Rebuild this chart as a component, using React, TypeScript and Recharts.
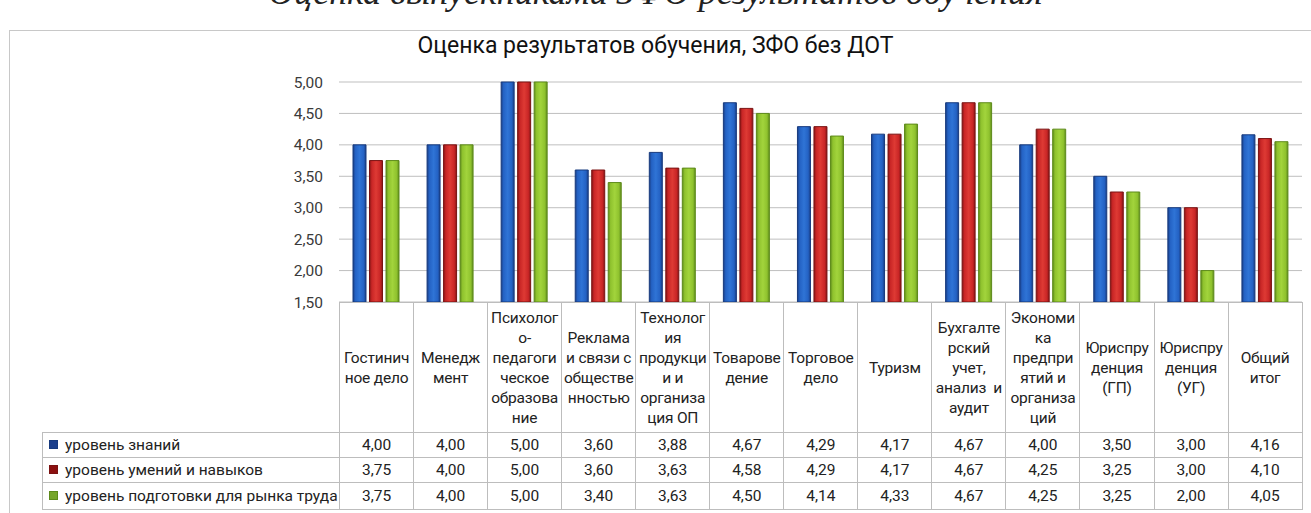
import { BarChart, Bar, XAxis, YAxis, CartesianGrid } from "recharts";

const FONT = "Roboto, 'Liberation Sans', sans-serif";

// category labels, split into lines exactly as wrapped in the picture
const categories = [
  ["Гостинич", "ное дело"],
  ["Менедж", "мент"],
  ["Психолог", "о-", "педагоги", "ческое", "образова", "ние"],
  ["Реклама", "и связи с", "обществе", "нностью"],
  ["Технолог", "ия", "продукци", "и и", "организа", "ция ОП"],
  ["Товарове", "дение"],
  ["Торговое", "дело"],
  ["Туризм"],
  ["Бухгалте", "рский", "учет,", "анализ  и", "аудит"],
  ["Экономи", "ка", "предпри", "ятий и", "организа", "ций"],
  ["Юриспру", "денция", "(ГП)"],
  ["Юриспру", "денция", "(УГ)"],
  ["Общий", "итог"],
];

const knowledge = [4.0, 4.0, 5.0, 3.6, 3.88, 4.67, 4.29, 4.17, 4.67, 4.0, 3.5, 3.0, 4.16];
const skills = [3.75, 4.0, 5.0, 3.6, 3.63, 4.58, 4.29, 4.17, 4.67, 4.25, 3.25, 3.0, 4.1];
const market = [3.75, 4.0, 5.0, 3.4, 3.63, 4.5, 4.14, 4.33, 4.67, 4.25, 3.25, 2.0, 4.05];

const yTicks = [1.5, 2.0, 2.5, 3.0, 3.5, 4.0, 4.5, 5.0];

const series = [
  { key: "knowledge", label: "уровень знаний", values: knowledge, grad: "gBlue", stroke: "#173a7e", key2: "#1c3f8c" },
  { key: "skills", label: "уровень умений и навыков", values: skills, grad: "gRed", stroke: "#7a1212", key2: "#8c1010" },
  { key: "market", label: "уровень подготовки для рынка труда", values: market, grad: "gGreen", stroke: "#5d8a1a", key2: "#76a52a" },
];

const data = categories.map((c, i) => ({
  name: c.join(" "),
  knowledge: knowledge[i],
  skills: skills[i],
  market: market[i],
}));

const fmt = (v: number) => v.toFixed(2).replace(".", ",");

const BORDER = "1px solid #bdbdbd";
const COL_W = 962.7 / 13;

function Grad({ id, edge, mid, light }: { id: string; edge: string; mid: string; light: string }) {
  return (
    <linearGradient id={id} x1="0" y1="0" x2="1" y2="0">
      <stop offset="0%" stopColor={edge} />
      <stop offset="18%" stopColor={mid} />
      <stop offset="50%" stopColor={light} />
      <stop offset="82%" stopColor={mid} />
      <stop offset="100%" stopColor={edge} />
    </linearGradient>
  );
}

export default function App() {
  return (
    <div
      style={{
        position: "fixed",
        left: 0,
        top: 0,
        width: 1311,
        height: 513,
        background: "#fff",
        overflow: "hidden",
        fontFamily: FONT,
        color: "#222",
      }}
    >
      {/* caption above the chart, cut off at the top as in the source */}
      <div
        style={{
          position: "absolute",
          left: 0,
          width: 1311,
          top: -27,
          textAlign: "center",
          fontFamily: "'Liberation Serif', serif",
          fontStyle: "italic",
          fontSize: 36,
          lineHeight: "38px",
        }}
      >
        Оценка выпускниками ЗФО результатов обучения
      </div>

      {/* chart frame */}
      <div
        style={{
          position: "absolute",
          left: 9,
          top: 30,
          width: 1320,
          height: 500,
          border: "1px solid #c8c8c8",
        }}
      />

      <div
        style={{
          position: "absolute",
          left: 0,
          width: 1311,
          top: 32,
          textAlign: "center",
          fontSize: 23,
          color: "#111",
        }}
      >
        Оценка результатов обучения, ЗФО без ДОТ
      </div>

      <div style={{ position: "absolute", left: 0, top: 0 }}>
        <BarChart
          width={1311}
          height={513}
          data={data}
          margin={{ top: 82, right: 9, bottom: 211, left: 279 }}
          barCategoryGap={14}
          barGap={3.5}
        >
          <defs>
            <Grad id="gBlue" edge="#1a3f86" mid="#2462c4" light="#2f74d6" />
            <Grad id="gRed" edge="#861616" mid="#c92626" light="#de3a34" />
            <Grad id="gGreen" edge="#5f8c1c" mid="#8fc22e" light="#a2d43c" />
          </defs>
          <CartesianGrid vertical={false} stroke="#bfbfbf" />
          <XAxis
            dataKey="name"
            height={0}
            tick={false}
            tickLine={false}
            axisLine={{ stroke: "#a8a8a8" }}
          />
          <YAxis
            width={60}
            domain={[1.5, 5]}
            ticks={yTicks}
            tickFormatter={fmt}
            axisLine={false}
            tickLine={false}
            tickSize={14}
            tickMargin={2}
            tick={{ fill: "#3a3a3a", fontSize: 15.5, fontFamily: FONT }}
          />
          {series.map((s) => (
            <Bar
              key={s.key}
              dataKey={s.key}
              fill={`url(#${s.grad})`}
              stroke={s.stroke}
              strokeWidth={1}
              isAnimationActive={false}
            />
          ))}
        </BarChart>
      </div>

      {/* data table under the plot */}
      <table
        style={{
          position: "absolute",
          left: 42,
          top: 302,
          width: 297 + COL_W * 13,
          borderCollapse: "collapse",
          tableLayout: "fixed",
          fontSize: 15.5,
          fontFamily: FONT,
        }}
      >
        <colgroup>
          <col style={{ width: 297 }} />
          {categories.map((_, i) => (
            <col key={i} style={{ width: COL_W }} />
          ))}
        </colgroup>
        <tbody>
          <tr style={{ height: 130 }}>
            <td style={{ border: "none", borderBottom: BORDER }} />
            {categories.map((lines, i) => (
              <td
                key={i}
                style={{
                  border: BORDER,
                  textAlign: "center",
                  verticalAlign: "middle",
                  padding: 0,
                  lineHeight: "20px",
                  whiteSpace: "pre",
                  letterSpacing: -0.2,
                }}
              >
                {lines.map((l, j) => (
                  <div key={j}>{l}</div>
                ))}
              </td>
            ))}
          </tr>
          {series.map((s, r) => (
            <tr key={s.key} style={{ height: r === 2 ? 27 : 25 }}>
              <td style={{ border: BORDER, padding: "0 0 0 6px", whiteSpace: "nowrap" }}>
                <span
                  style={{
                    display: "inline-block",
                    width: 7,
                    height: 7,
                    background: s.key2,
                    border: `1px solid ${s.stroke}`,
                    marginRight: 7,
                    verticalAlign: "middle",
                    position: "relative",
                    top: -1,
                  }}
                />
                {s.label}
              </td>
              {s.values.map((v, i) => (
                <td key={i} style={{ border: BORDER, textAlign: "center", padding: 0 }}>
                  {fmt(v)}
                </td>
              ))}
            </tr>
          ))}
        </tbody>
      </table>
    </div>
  );
}
